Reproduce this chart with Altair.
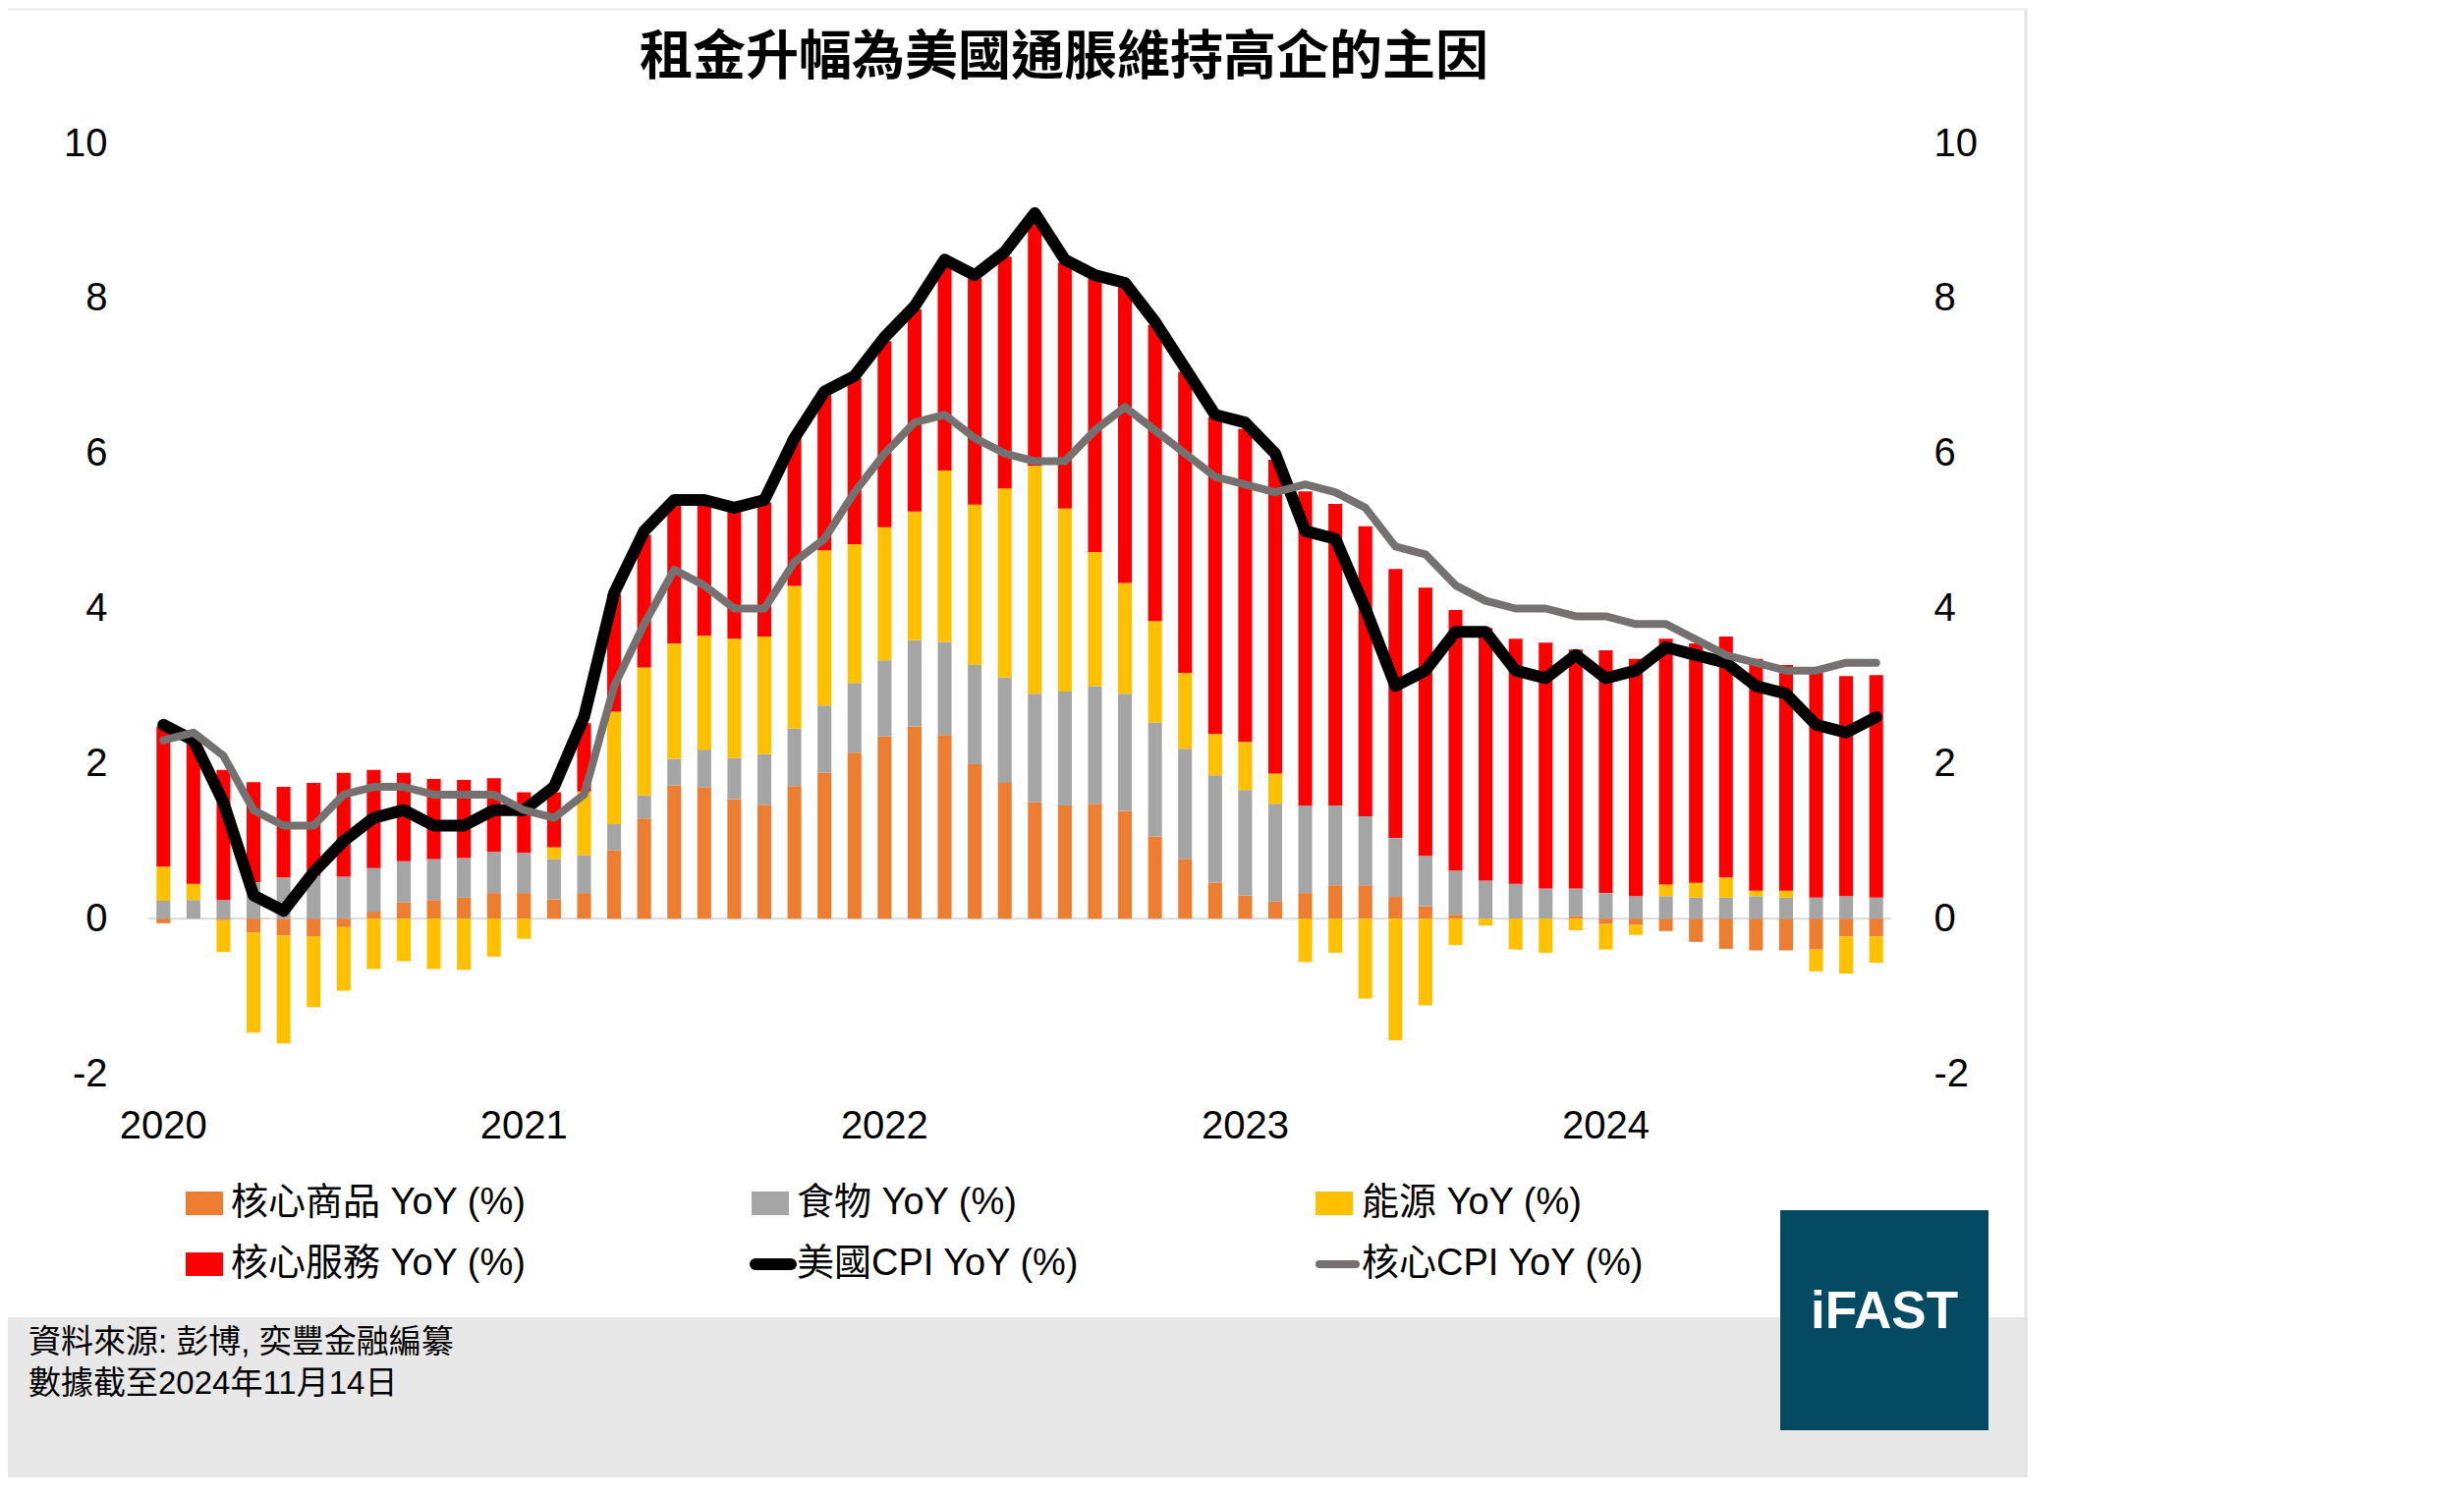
import altair as alt
import pandas as pd

# ---------------- data ----------------
months = [f"{y}-{m:02d}" for y in range(2020, 2025) for m in range(1, 13)][:58]

series_names = ["核心商品 YoY (%)", "食物 YoY (%)", "能源 YoY (%)", "核心服務 YoY (%)"]
series_colors = ["#ED7D31", "#A5A5A5", "#FFC000", "#FF0000"]
line_names = ["美國CPI YoY (%)", "核心CPI YoY (%)"]
line_colors = ["#000000", "#767171"]

core_goods = [-0.06, 0.0, -0.02, -0.18, -0.22, -0.23, -0.11, 0.09, 0.21, 0.24, 0.27, 0.33,
              0.33, 0.25, 0.33, 0.88, 1.29, 1.72, 1.69, 1.54, 1.47, 1.71, 1.88, 2.14,
              2.35, 2.48, 2.37, 1.99, 1.75, 1.50, 1.46, 1.48, 1.39, 1.06, 0.77, 0.46,
              0.30, 0.22, 0.33, 0.43, 0.43, 0.28, 0.16, 0.05, 0.0, 0.0, 0.0, 0.03,
              -0.07, -0.08, -0.16, -0.30, -0.39, -0.41, -0.41, -0.40, -0.23, -0.23]
food = [0.23, 0.24, 0.24, 0.47, 0.53, 0.55, 0.54, 0.56, 0.53, 0.53, 0.51, 0.53,
        0.52, 0.52, 0.49, 0.34, 0.30, 0.34, 0.49, 0.53, 0.65, 0.74, 0.87, 0.90,
        0.98, 1.11, 1.20, 1.28, 1.36, 1.40, 1.47, 1.52, 1.51, 1.47, 1.42, 1.39,
        1.36, 1.26, 1.13, 1.03, 0.89, 0.76, 0.65, 0.57, 0.49, 0.45, 0.39, 0.36,
        0.33, 0.29, 0.29, 0.27, 0.27, 0.29, 0.27, 0.27, 0.29, 0.27]
energy = [0.44, 0.21, -0.41, -1.29, -1.39, -0.91, -0.82, -0.65, -0.55, -0.65, -0.66, -0.49,
          -0.26, 0.15, 0.82, 1.45, 1.65, 1.49, 1.47, 1.54, 1.52, 1.84, 2.00, 1.79,
          1.72, 1.66, 2.21, 2.07, 2.44, 2.94, 2.36, 1.73, 1.43, 1.31, 0.98, 0.53,
          0.62, 0.39, -0.56, -0.44, -1.03, -1.57, -1.12, -0.34, -0.09, -0.40, -0.44, -0.15,
          -0.33, -0.13, 0.15, 0.19, 0.26, 0.07, 0.09, -0.28, -0.48, -0.34]
services = [1.81, 1.83, 1.68, 1.29, 1.17, 1.20, 1.34, 1.27, 1.14, 1.03, 1.01, 0.95,
            0.78, 0.71, 0.88, 1.52, 1.71, 1.80, 1.72, 1.66, 1.73, 1.91, 2.01, 2.14,
            2.40, 2.61, 2.68, 2.92, 2.99, 3.23, 3.17, 3.53, 3.85, 3.82, 3.88, 4.09,
            4.04, 4.05, 4.05, 3.89, 3.74, 3.47, 3.46, 3.36, 3.26, 3.16, 3.17, 3.08,
            3.13, 3.06, 3.17, 3.09, 3.11, 2.99, 2.91, 2.90, 2.84, 2.87]
cpi = [2.5, 2.3, 1.5, 0.3, 0.1, 0.6, 1.0, 1.3, 1.4, 1.2, 1.2, 1.4,
       1.4, 1.7, 2.6, 4.2, 5.0, 5.4, 5.4, 5.3, 5.4, 6.2, 6.8, 7.0,
       7.5, 7.9, 8.5, 8.3, 8.6, 9.1, 8.5, 8.3, 8.2, 7.7, 7.1, 6.5,
       6.4, 6.0, 5.0, 4.9, 4.0, 3.0, 3.2, 3.7, 3.7, 3.2, 3.1, 3.4,
       3.1, 3.2, 3.5, 3.4, 3.3, 3.0, 2.9, 2.5, 2.4, 2.6]
core_cpi = [2.3, 2.4, 2.1, 1.4, 1.2, 1.2, 1.6, 1.7, 1.7, 1.6, 1.6, 1.6,
            1.4, 1.3, 1.6, 3.0, 3.8, 4.5, 4.3, 4.0, 4.0, 4.6, 4.9, 5.5,
            6.0, 6.4, 6.5, 6.2, 6.0, 5.9, 5.9, 6.3, 6.6, 6.3, 6.0, 5.7,
            5.6, 5.5, 5.6, 5.5, 5.3, 4.8, 4.7, 4.3, 4.1, 4.0, 4.0, 3.9,
            3.9, 3.8, 3.8, 3.6, 3.4, 3.3, 3.2, 3.2, 3.3, 3.3]

y_ticks = [-2, 0, 2, 4, 6, 8, 10]
y_domain = [-2, 10]

title_text = "租金升幅為美國通脹維持高企的主因"
footer_lines = ["資料來源: 彭博, 奕豐金融編纂", "數據截至2024年11月14日"]
logo_text = "iFAST"

# ---------------- tables ----------------
rows = []
for i, m in enumerate(months):
    for k, vals in enumerate([core_goods, food, energy, services]):
        rows.append({"month": m, "series": series_names[k], "order": k, "value": vals[i]})
bars_df = pd.DataFrame(rows)
lines_df = pd.DataFrame({"month": months, "cpi": cpi, "core": core_cpi})
one = pd.DataFrame({"a": [0]})

# ---------------- layout ----------------
W, H = 1774, 947
PAD = {"left": 143, "top": 138, "right": 139, "bottom": 411}
LATIN = "Liberation Sans, Noto Sans CJK TC"
CJK = "Noto Sans CJK TC"

x_enc = alt.X("month:O",
              scale=alt.Scale(paddingInner=0.54, paddingOuter=0.27),
              axis=alt.Axis(title=None, labelAngle=0, domain=False, ticks=False,
                            labelOverlap=False, labelPadding=33, labelFontSize=40,
                            labelFont=LATIN, labelColor="#000000",
                            labelExpr="substring(datum.value,5,7)=='01' ? substring(datum.value,0,4) : ''"))

def yscale():
    return alt.Scale(domain=y_domain, nice=False, zero=False)

def yaxis(orient, pad):
    return alt.Axis(values=y_ticks, orient=orient, title=None, domain=False, ticks=False,
                    grid=False, labelPadding=pad, labelFontSize=40, labelFont=LATIN,
                    labelColor="#000000", labelExpr="datum.value + ''")

# background pieces
footer_bg = alt.Chart(one).mark_rect(color="#E8E8E8").encode(
    x=alt.value(-143), x2=alt.value(W + PAD["right"]), y=alt.value(1195), y2=alt.value(1358))
border = alt.Chart(one).mark_rule(color="#E3E3E3", strokeWidth=3).encode(
    x=alt.value(W + PAD["right"] - 2), y=alt.value(-138), y2=alt.value(1358))
border_top = alt.Chart(one).mark_rule(color="#EEEEEE", strokeWidth=3).encode(
    x=alt.value(-143), x2=alt.value(W + PAD["right"]), y=alt.value(-137))

zero_rule = alt.Chart(one).mark_rule(color="#D9D9D9", strokeWidth=2).encode(
    y=alt.YDatum(0, scale=yscale(), axis=None))

bars = alt.Chart(bars_df).mark_bar().encode(
    x=x_enc,
    y=alt.Y("value:Q", stack="zero", scale=yscale(), axis=yaxis("left", 42)),
    color=alt.Color("series:N", scale=alt.Scale(domain=series_names, range=series_colors), legend=None),
    order=alt.Order("order:Q", sort="ascending"),
)

cpi_line = alt.Chart(lines_df).mark_line(color=line_colors[0], strokeWidth=12,
                                         strokeJoin="round", strokeCap="round").encode(
    x=x_enc,
    y=alt.Y("cpi:Q", scale=yscale(), axis=yaxis("right", 43)),
)
core_line = alt.Chart(lines_df).mark_line(color=line_colors[1], strokeWidth=8,
                                          strokeJoin="round", strokeCap="round").encode(
    x=x_enc,
    y=alt.Y("core:Q", scale=yscale(), axis=None),
)

# title
title = alt.Chart(one).mark_text(text=title_text, font=CJK, fontSize=54, fontWeight="bold",
                                 align="center", baseline="middle", color="#000000").encode(
    x=alt.value(932), y=alt.value(-86))

# legend (manual, 3 columns x 2 rows)
legend_items = [(series_names[0], series_colors[0], "rect"),
                (series_names[1], series_colors[1], "rect"),
                (series_names[2], series_colors[2], "rect"),
                (series_names[3], series_colors[3], "rect"),
                (line_names[0], line_colors[0], "line0"),
                (line_names[1], line_colors[1], "line1")]
col_sw = [38, 614, 1188]
col_tx = [84, 660, 1235]
row_y = [1079, 1141]
legend_layers = []
for idx, (name, colr, kind) in enumerate(legend_items):
    r, c = divmod(idx, 3)
    yc = row_y[r]
    if kind == "rect":
        legend_layers.append(alt.Chart(one).mark_rect(color=colr).encode(
            x=alt.value(col_sw[c]), x2=alt.value(col_sw[c] + 38),
            y=alt.value(yc - 12), y2=alt.value(yc + 12)))
    else:
        sw = 12 if kind == "line0" else 8
        legend_layers.append(alt.Chart(one).mark_rule(color=colr, strokeWidth=sw, strokeCap="round").encode(
            x=alt.value(col_sw[c] + 4), x2=alt.value(col_tx[c] - 6), y=alt.value(yc)))
    legend_layers.append(alt.Chart(one).mark_text(text=name, font=LATIN, fontSize=38, align="left",
                                                  baseline="middle", color="#000000").encode(
        x=alt.value(col_tx[c]), y=alt.value(yc)))

# footer text
footer_layers = []
for j, line in enumerate(footer_lines):
    footer_layers.append(alt.Chart(one).mark_text(text=line, font=LATIN, fontSize=33, align="left",
                                                  baseline="middle", color="#000000").encode(
        x=alt.value(-122), y=alt.value(1221 + 42 * j)))

# logo
logo_bg = alt.Chart(one).mark_rect(color="#034A62").encode(
    x=alt.value(1661), x2=alt.value(1873), y=alt.value(1086), y2=alt.value(1310))
logo_tx = alt.Chart(one).mark_text(text=logo_text, font="Liberation Sans Narrow, Liberation Sans",
                                   fontSize=53, fontWeight="bold", align="center",
                                   baseline="middle", color="#FFFFFF").encode(
    x=alt.value(1767), y=alt.value(1190))

chart = alt.layer(
    footer_bg, border, border_top, zero_rule, bars, cpi_line, core_line, title,
    *legend_layers, *footer_layers, logo_bg, logo_tx
).resolve_scale(y="independent").properties(
    width=W, height=H, padding=PAD,
    autosize=alt.AutoSizeParams(type="none"),
    background="#FFFFFF",
).configure_view(stroke=None)

chart.save("out.html", embed_options={"renderer": "svg", "actions": False})
